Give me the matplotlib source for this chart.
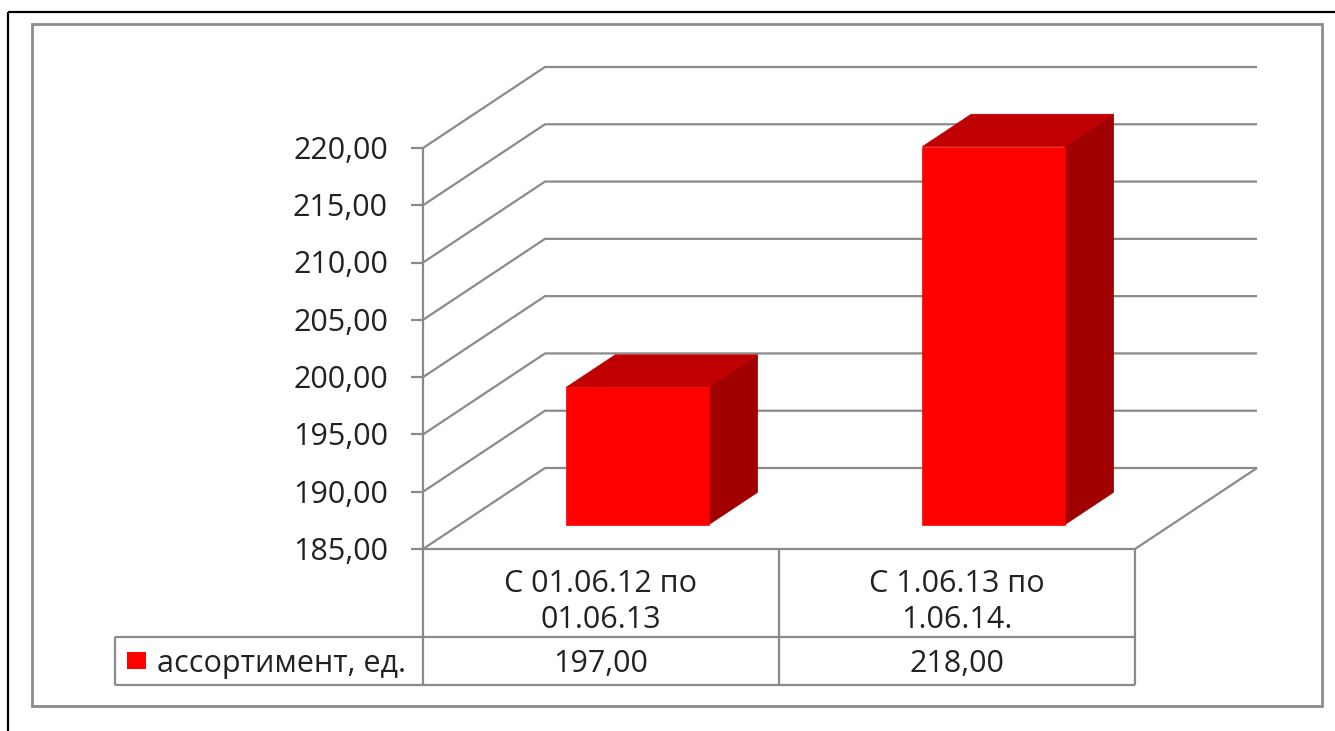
import matplotlib
matplotlib.use("Agg")
import matplotlib.pyplot as plt
from matplotlib.lines import Line2D
from matplotlib.patches import Polygon, Rectangle
from matplotlib.transforms import IdentityTransform

# ---------------- data ----------------
categories = ["С 01.06.12 по\n01.06.13", "С 1.06.13 по\n1.06.14."]
values = [197.00, 218.00]
series_name = "ассортимент, ед."
y_ticks = [185, 190, 195, 200, 205, 210, 215, 220]

# ---------------- styling ----------------
plt.rcParams['font.family'] = ['Open Sans', 'DejaVu Sans']
W, H = 1335, 731
FS = 22
TXT = "#222222"
GRID = "#8a8a8a"
FRONT, TOP, SIDE = "#ff0000", "#c00000", "#a00000"
DX, DY = 122, 81            # depth offset of the back wall (px)
D0, D1 = 0.3, 0.7           # bar depth span
BAR_W = 0.4

fig = plt.figure(figsize=(W / 100, H / 100), dpi=100)
fig.patch.set_facecolor("white")

ax = fig.add_axes([423 / W, (H - 549) / H, (1135 - 423) / W, (549 - 148) / H])
ax.set_xlim(0, len(categories))
ax.set_ylim(min(y_ticks), max(y_ticks))
ax.axis('off')

ID = IdentityTransform()
EM = FS * 100 / 72


def iy(y_img):
    return H - y_img


def P(x, v, d=0.0):
    px, py = ax.transData.transform((x, v))
    return (px + DX * d, py + DY * d)


def line(pts, color=GRID, lw=1.6, z=1):
    xs = [p[0] for p in pts]
    ys = [p[1] for p in pts]
    fig.add_artist(Line2D(xs, ys, transform=ID, color=color, lw=lw, zorder=z,
                          solid_capstyle='butt', solid_joinstyle='miter'))


# outer black frame (top + left) and inner grey chart-area frame
line([(8, iy(12)), (W, iy(12))], color="black", lw=1.6)
line([(8, iy(12)), (8, 0)], color="black", lw=1.6)
fig.add_artist(Rectangle((32, iy(706)), 1322 - 32, 706 - 24, transform=ID,
                         fill=False, edgecolor="#8c8c8c", lw=2.0, zorder=1))

n = len(categories)
vmin = min(y_ticks)

# gridlines: side wall diagonals + back wall horizontals
for t in y_ticks:
    line([P(0, t, 0), P(0, t, 1), P(n, t, 1)])
    x0, y0 = P(0, t, 0)
    line([(x0 - 12, y0), (x0, y0)])
    fig.text(388, y0 - 0.357 * EM, f"{t:.2f}".replace(".", ","), transform=ID,
             ha='right', va='baseline', fontsize=FS, color=TXT)

# floor front and right edges, vertical axis
line([P(0, vmin, 0), P(n, vmin, 0)])
line([P(n, vmin, 0), P(n, vmin, 1)])
line([P(0, max(y_ticks), 0), P(0, vmin, 0)])

# bars (3 faces)
for i, v in enumerate(values):
    xl = i + 0.5 - BAR_W / 2
    xr = i + 0.5 + BAR_W / 2
    side = [P(xr, vmin, D0), P(xr, v, D0), P(xr, v, D1), P(xr, vmin, D1)]
    top = [P(xl, v, D0), P(xr, v, D0), P(xr, v, D1), P(xl, v, D1)]
    front = [P(xl, vmin, D0), P(xr, vmin, D0), P(xr, v, D0), P(xl, v, D0)]
    for pts, c in ((side, SIDE), (top, TOP), (front, FRONT)):
        fig.add_artist(Polygon(pts, closed=True, transform=ID, facecolor=c,
                               edgecolor=c, lw=0.5, zorder=3))

# ---------------- data table ----------------
row1_bot = iy(637)
row2_bot = iy(685)
leg_left = 115
x_left = P(0, vmin, 0)[0]
x_right = P(n, vmin, 0)[0]
y_top = P(0, vmin, 0)[1]

line([(x_left, y_top), (x_left, row2_bot)])
for k in range(1, n + 1):
    xk = P(k, vmin, 0)[0]
    line([(xk, y_top), (xk, row2_bot)])
line([(leg_left, row1_bot), (x_right, row1_bot)])
line([(leg_left, row2_bot), (x_right, row2_bot)])
line([(leg_left, row1_bot), (leg_left, row2_bot)])

for i, (c, v) in enumerate(zip(categories, values)):
    xc = P(i + 0.5, vmin, 0)[0]
    l1, l2 = c.split("\n")
    fig.text(xc, iy(581) - 0.357 * EM, l1, transform=ID, ha='center',
             va='baseline', fontsize=FS, color=TXT)
    fig.text(xc, iy(617) - 0.357 * EM, l2, transform=ID, ha='center',
             va='baseline', fontsize=FS, color=TXT)
    fig.text(xc, iy(661) - 0.357 * EM, f"{v:.2f}".replace(".", ","),
             transform=ID, ha='center', va='baseline', fontsize=FS, color=TXT)

# legend key inside table
fig.add_artist(Rectangle((127, iy(669)), 19, 17, transform=ID,
                         facecolor=FRONT, edgecolor='none', zorder=3))
fig.text(157, iy(661) - 0.357 * EM, series_name, transform=ID,
         ha='left', va='baseline', fontsize=FS, color=TXT)

fig.savefig("out.png", dpi=100, facecolor="white")
